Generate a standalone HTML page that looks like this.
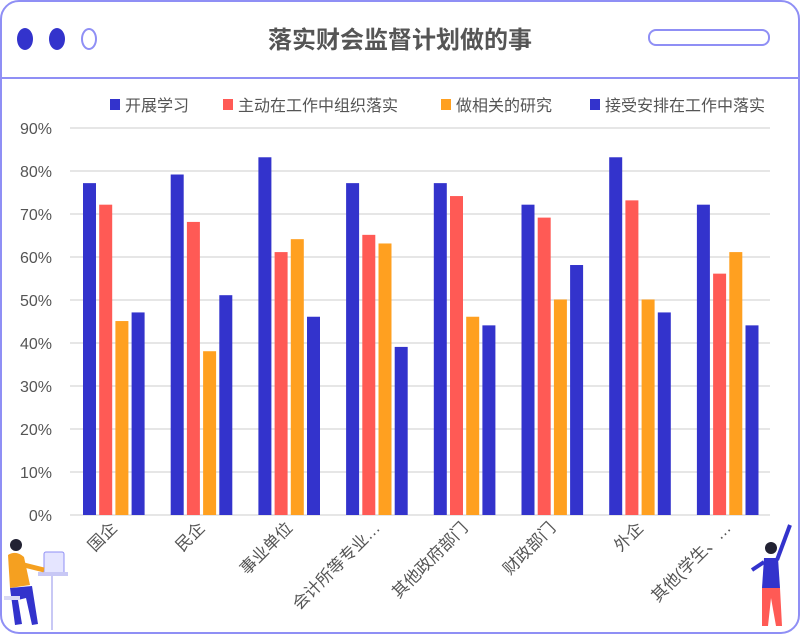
<!DOCTYPE html>
<html><head><meta charset="utf-8"><style>
body{margin:0;background:#fff;}
svg{display:block;font-family:"Liberation Sans","Noto Sans CJK SC",sans-serif;}
</style></head><body>
<svg width="800" height="634" viewBox="0 0 800 634">
<rect x="1" y="1" width="798" height="632" rx="18" fill="#fff" stroke="#8f8ff5" stroke-width="2"/>
<line x1="1" y1="78" x2="799" y2="78" stroke="#8f8ff5" stroke-width="2"/>
<ellipse cx="25" cy="39" rx="8" ry="11" fill="#3333cc"/>
<ellipse cx="57" cy="39" rx="8" ry="11" fill="#3333cc"/>
<ellipse cx="89" cy="39" rx="7" ry="10" fill="#fff" stroke="#8f8ff5" stroke-width="2"/>
<rect x="649" y="30" width="120" height="15" rx="7" fill="#fff" stroke="#8f8ff5" stroke-width="2"/>
<text x="400" y="48" text-anchor="middle" font-size="24" font-weight="bold" fill="#555">落实财会监督计划做的事</text>
<g font-size="16" fill="#555">
<rect x="110" y="99" width="10" height="11" fill="#3333cc"/><text x="125" y="111">开展学习</text>
<rect x="223" y="99" width="10" height="11" fill="#ff5a55"/><text x="238" y="111">主动在工作中组织落实</text>
<rect x="441" y="99" width="10" height="11" fill="#ffa020"/><text x="456" y="111">做相关的研究</text>
<rect x="590" y="99" width="10" height="11" fill="#3333cc"/><text x="605" y="111">接受安排在工作中落实</text>
</g>
<g stroke="#ddd" stroke-width="1.5">
<line x1="70" x2="770" y1="128" y2="128"/><line x1="70" x2="770" y1="171" y2="171"/>
<line x1="70" x2="770" y1="214" y2="214"/><line x1="70" x2="770" y1="257" y2="257"/>
<line x1="70" x2="770" y1="300" y2="300"/><line x1="70" x2="770" y1="343" y2="343"/>
<line x1="70" x2="770" y1="386" y2="386"/><line x1="70" x2="770" y1="429" y2="429"/>
<line x1="70" x2="770" y1="472" y2="472"/><line x1="70" x2="770" y1="515" y2="515"/>
</g>
<g font-size="16" fill="#555" text-anchor="end">
<text x="52" y="134">90%</text><text x="52" y="177">80%</text><text x="52" y="220">70%</text>
<text x="52" y="263">60%</text><text x="52" y="306">50%</text><text x="52" y="349">40%</text>
<text x="52" y="392">30%</text><text x="52" y="435">20%</text><text x="52" y="478">10%</text>
<text x="52" y="521">0%</text>
</g>
<g id="bars"></g>
<g id="labels" font-size="16.5" fill="#555" text-anchor="end"></g>
<g>
<rect x="44" y="552" width="20" height="22" rx="2" fill="#e5e5ff" stroke="#8f8ff5"/>
<rect x="38" y="572" width="30" height="4" fill="#c8c8f5"/>
<line x1="52" y1="576" x2="52" y2="630" stroke="#c8c8f5" stroke-width="2"/>
<circle cx="16" cy="545" r="6" fill="#223"/>
<path d="M8 555 Q16 550 24 557 L30 585 L10 588 Z" fill="#f5a020"/>
<path d="M24 565 L44 570" stroke="#f5a020" stroke-width="5"/>
<path d="M10 588 L32 586 L38 624 L32 625 L26 598 L18 600 L22 624 L15 625 Z" fill="#3333cc"/>
<rect x="4" y="596" width="16" height="4" fill="#d8d8f5"/>
</g>
<g>
<circle cx="771" cy="548" r="6" fill="#223"/>
<path d="M764 558 L778 558 L780 588 L762 588 Z" fill="#3333cc"/>
<path d="M777 560 L790 525" stroke="#3333cc" stroke-width="4"/>
<path d="M764 562 L752 570" stroke="#3333cc" stroke-width="4"/>
<path d="M762 588 L780 588 L782 626 L776 626 L771 598 L768 626 L762 626 Z" fill="#ff5a55"/>
</g>
</svg>
<script>
var data=[["国企",77,72,45,47],["民企",79,68,38,51],["事业单位",83,61,64,46],["会计所等专业…",77,65,63,39],["其他政府部门",77,74,46,44],["财政部门",72,69,50,58],["外企",83,73,50,47],["其他(学生、…",72,56,61,44]];
var cols=["#3333cc","#ff5a55","#ffa020","#3333cc"];
var ns="http://www.w3.org/2000/svg",b=document.getElementById("bars"),l=document.getElementById("labels");
data.forEach(function(d,i){
 var x0=83+i*87.7;
 for(var k=0;k<4;k++){var h=d[k+1]*4.31;var r=document.createElementNS(ns,"rect");
 r.setAttribute("x",x0+k*16.2);r.setAttribute("y",515-h);r.setAttribute("width",13);r.setAttribute("height",h);r.setAttribute("fill",cols[k]);b.appendChild(r);}
 var t=document.createElementNS(ns,"text");var cx=x0+35,cy=529;
 t.setAttribute("x",cx);t.setAttribute("y",cy);t.setAttribute("transform","rotate(-45 "+cx+" "+cy+")");t.textContent=d[0];l.appendChild(t);
});
</script>
</body></html>
